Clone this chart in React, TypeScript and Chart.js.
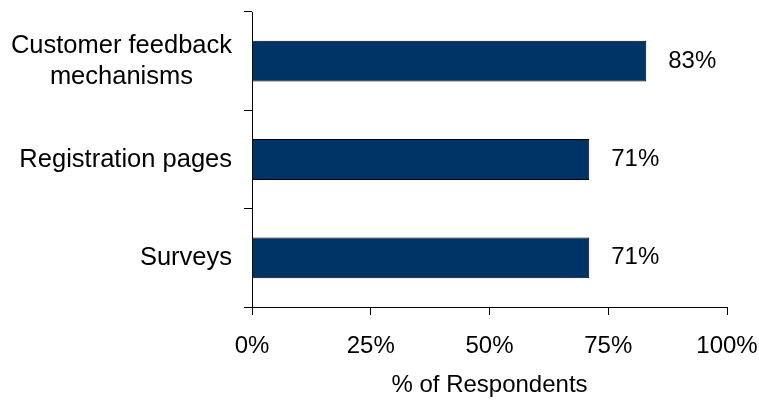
import { useEffect, useRef } from 'react';
import { Chart, registerables } from 'chart.js';

Chart.register(...registerables);

const categories: (string | string[])[] = [['Customer feedback', 'mechanisms'], 'Registration pages', 'Surveys'];
const values = [83, 71, 71];
const xTickValues = [0, 25, 50, 75, 100];
const axisTitle = '% of Respondents';

const FONT = '"Liberation Sans", Arial, sans-serif';
const OUT_W = 759;
const OUT_H = 417;

const overlay = {
  id: 'overlay',
  afterDatasetsDraw(chart: any) {
    const ctx = chart.ctx as CanvasRenderingContext2D;
    const meta = chart.getDatasetMeta(0);
    const ca = chart.chartArea;
    ctx.save();
    ctx.font = `24px ${FONT}`;
    ctx.fillStyle = '#000';
    ctx.textBaseline = 'middle';
    ctx.textAlign = 'left';
    meta.data.forEach((bar: any, i: number) => {
      ctx.fillText(values[i] + '%', bar.x + 22, bar.y);
    });
    ctx.textAlign = 'center';
    ctx.fillText(axisTitle, (ca.left + ca.right) / 2, 385);

    const ys = chart.scales.y;
    const rightX = ca.left - 20;
    const lineH = 31;
    ctx.font = `25.5px ${FONT}`;
    categories.forEach((c, i) => {
      const lines = Array.isArray(c) ? c : [c];
      const w = Math.max(...lines.map((l) => ctx.measureText(l).width));
      const cx = rightX - w / 2;
      const cy = ys.getPixelForValue(i);
      lines.forEach((l, j) => {
        ctx.fillText(l, cx, cy + (j - (lines.length - 1) / 2) * lineH);
      });
    });
    ctx.restore();
  },
};

export default function App() {
  const ref = useRef<HTMLCanvasElement | null>(null);
  useEffect(() => {
    if (!ref.current) return;
    const chart = new Chart(ref.current, {
      type: 'bar',
      data: {
        labels: categories as any,
        datasets: [
          {
            data: values,
            backgroundColor: '#003366',
            borderColor: '#000000',
            borderWidth: 1,
            barPercentage: 0.415,
            categoryPercentage: 1,
          },
        ],
      },
      options: {
        indexAxis: 'y',
        animation: false,
        responsive: true,
        maintainAspectRatio: false,
        devicePixelRatio: 1,
        layout: { padding: { left: 0, right: OUT_W - 727, top: 12, bottom: 0 } },
        plugins: { legend: { display: false }, tooltip: { enabled: false }, title: { display: false } },
        scales: {
          x: {
            type: 'linear',
            min: 0,
            max: 100,
            afterBuildTicks: (s: any) => {
              s.ticks = xTickValues.map((v) => ({ value: v }));
            },
            afterFit: (s: any) => {
              s.height = OUT_H - 307;
              s.paddingLeft = 0;
              s.paddingRight = 0;
            },
            grid: { display: true, drawOnChartArea: false, drawTicks: true, tickLength: 8, color: '#000', lineWidth: 1 },
            border: { display: true, color: '#000', width: 1 },
            ticks: {
              color: '#000',
              font: { family: FONT, size: 24 },
              padding: 17,
              maxRotation: 0,
              autoSkip: false,
              callback: (v: any) => v + '%',
            },
          },
          y: {
            type: 'category',
            offset: true,
            afterFit: (s: any) => {
              s.width = 252;
              s.paddingTop = 0;
              s.paddingBottom = 0;
            },
            grid: { display: true, offset: true, drawOnChartArea: false, drawTicks: true, tickLength: 8, color: '#000', lineWidth: 1 },
            border: { display: true, color: '#000', width: 1 },
            ticks: { display: false },
          },
        },
      },
      plugins: [overlay],
    });
    return () => chart.destroy();
  }, []);
  return (
    <div
      style={{
        position: 'absolute',
        left: 0,
        top: 0,
        width: OUT_W + 'px',
        height: OUT_H + 'px',
        background: '#fff',
      }}
    >
      <canvas ref={ref} />
    </div>
  );
}
